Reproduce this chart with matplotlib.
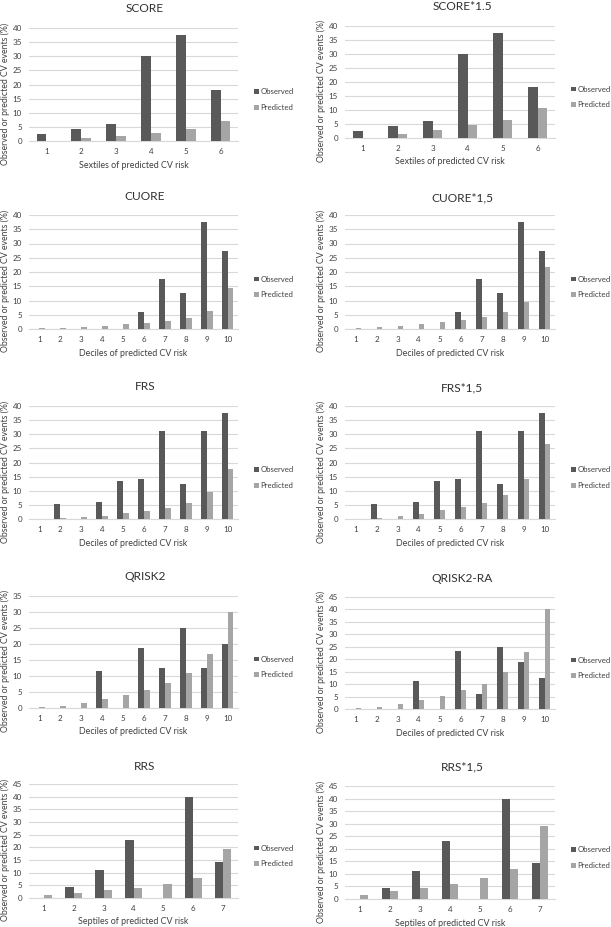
import matplotlib
matplotlib.use("Agg")
import matplotlib.pyplot as plt
import numpy as np

plt.rcParams['font.family'] = ['Lato', 'DejaVu Sans']

# ---- data ----
titles = ["SCORE", "SCORE*1.5", "CUORE", "CUORE*1,5", "FRS", "FRS*1,5",
          "QRISK2", "QRISK2-RA", "RRS", "RRS*1,5"]
xlabels = ["Sextiles of predicted CV risk", "Sextiles of predicted CV risk",
           "Deciles of predicted CV risk", "Deciles of predicted CV risk",
           "Deciles of predicted CV risk", "Deciles of predicted CV risk",
           "Deciles of predicted CV risk", "Deciles of predicted CV risk",
           "Septiles of predicted CV risk", "Septiles of predicted CV risk"]
ymax = [40, 40, 40, 40, 40, 40, 35, 45, 45, 45]

score_obs = [2.6, 4.3, 6.0, 30.0, 37.5, 18.2]
score_pred = [0.0, 1.0, 1.9, 3.0, 4.3, 7.2]
score15_pred = [0.0, 1.5, 2.9, 4.5, 6.5, 10.8]

cuore_obs = [0, 0, 0, 0, 0, 5.8, 17.6, 12.5, 37.5, 27.3]
cuore_pred = [0.3, 0.5, 0.8, 1.1, 1.6, 2.1, 2.8, 3.9, 6.3, 14.4]
cuore15_pred = [0.45, 0.75, 1.2, 1.65, 2.4, 3.1, 4.2, 5.9, 9.4, 21.6]

frs_obs = [0, 5.2, 0, 6.0, 13.3, 14.3, 31.2, 12.5, 31.2, 37.5]
frs_pred = [0, 0.3, 0.8, 1.2, 2.1, 3.0, 3.9, 5.7, 9.5, 17.8]
frs15_pred = [0, 0.45, 1.2, 1.8, 3.1, 4.4, 5.8, 8.5, 14.3, 26.6]

qrisk_obs = [0, 0, 0, 11.7, 0, 18.7, 12.5, 25.0, 12.5, 20.0]
qrisk_pred = [0.2, 0.7, 1.7, 2.7, 4.0, 5.7, 7.7, 11.0, 17.0, 30.0]

qriskra_obs = [0, 0, 0, 11.1, 0, 23.5, 6.2, 25.0, 18.7, 12.5]
qriskra_pred = [0.3, 1.0, 2.2, 3.5, 5.3, 7.8, 10.2, 15.0, 22.8, 40.0]

rrs_obs = [0, 4.3, 11.1, 23.0, 0, 40.0, 14.3]
rrs_pred = [1.0, 2.0, 3.0, 4.0, 5.5, 8.0, 19.3]
rrs15_pred = [1.5, 3.0, 4.5, 6.0, 8.2, 12.0, 29.0]

observed = [score_obs, score_obs, cuore_obs, cuore_obs, frs_obs, frs_obs,
            qrisk_obs, qriskra_obs, rrs_obs, rrs_obs]
predicted = [score_pred, score15_pred, cuore_pred, cuore15_pred, frs_pred,
             frs15_pred, qrisk_pred, qriskra_pred, rrs_pred, rrs15_pred]

series_names = ["Observed", "Predicted"]
ylabel = "Observed or predicted CV events (%)"

# ---- style / layout ----
W, H = 611, 927
fig = plt.figure(figsize=(W / 100, H / 100), dpi=100)
c_obs = "#595959"
c_pred = "#a5a5a5"
grid_c = "#d9d9d9"
text_c = "#404040"

# pixel boxes
col_x = [(29, 238), (345, 555)]
row_y = [[(28, 141), (26, 138)],
         [(215, 329), (215, 329)],
         [(406, 519), (406, 519)],
         [(596, 708), (597, 709)],
         [(784, 898), (786, 899)]]
title_y = [[9, 7], [197, 198], [387, 388], [577, 578], [766, 767]]
title_x = [145, 462]
ylab_x = [5, 321]
leg_x = [254, 571]

bw = 0.28
for i in range(10):
    r, c = divmod(i, 2)
    x0, x1 = col_x[c]
    y0, y1 = row_y[r][c]
    ax = fig.add_axes([x0 / W, 1 - y1 / H, (x1 - x0) / W, (y1 - y0) / H])
    obs = observed[i]
    pred = predicted[i]
    n = len(obs)
    x = np.arange(1, n + 1)
    b1 = ax.bar(x - bw / 2, obs, bw, color=c_obs, label=series_names[0], zorder=3)
    b2 = ax.bar(x + bw / 2, pred, bw, color=c_pred, label=series_names[1], zorder=3)
    ax.set_xlim(0.5, n + 0.5)
    ax.set_ylim(0, ymax[i])
    ax.set_yticks(np.arange(0, ymax[i] + 1, 5))
    ax.set_xticks(x)
    ax.set_xticklabels([str(v) for v in x])
    ax.tick_params(axis='both', length=0, labelsize=5.8, colors=text_c)
    ax.tick_params(axis='y', pad=5)
    ax.tick_params(axis='x', pad=5)
    ax.yaxis.grid(True, color=grid_c, linewidth=0.8, zorder=0)
    ax.set_axisbelow(True)
    for s in ['top', 'right', 'left']:
        ax.spines[s].set_visible(False)
    ax.spines['bottom'].set_color(grid_c)
    ax.spines['bottom'].set_linewidth(0.8)
    ax.set_xlabel(xlabels[i], fontsize=6.4, color=text_c, labelpad=4)
    fig.text(title_x[c] / W, 1 - title_y[r][c] / H, titles[i], fontsize=8.6,
             color="#303030", ha='center', va='center')
    fig.text(ylab_x[c] / W, 1 - ((y0 + y1) / 2 + 9) / H, ylabel, fontsize=6.3,
             color=text_c, rotation=90, ha='center', va='center')
    mid = (y0 + y1) / 2 + 15
    ax.legend(handles=[b1, b2], loc='center left',
              bbox_to_anchor=((leg_x[c] - x0) / (x1 - x0), 1 - (mid - y0) / (y1 - y0)),
              frameon=False, fontsize=5.6, handlelength=0.6, handleheight=0.6,
              handletextpad=0.2, labelspacing=1.1, borderaxespad=0, borderpad=0,
              labelcolor=text_c)

fig.savefig("out.png", dpi=100, facecolor="white")
